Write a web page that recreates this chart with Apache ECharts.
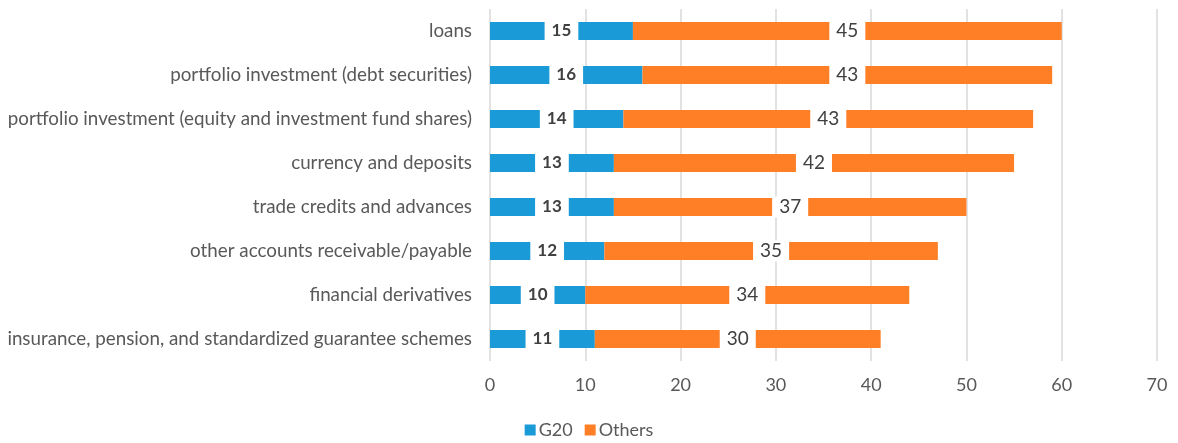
<!DOCTYPE html>
<html>
<head>
<meta charset="utf-8">
<script src="https://cdn.jsdelivr.net/npm/echarts@6/dist/echarts.min.js"></script>
<style>
  html, body { margin: 0; padding: 0; background: #ffffff; }
  #chart { width: 1178px; height: 443px; }
</style>
</head>
<body>
<div id="chart"></div>
<script>
// Financial instrument categories, top to bottom
const categories = [
  'loans',
  'portfolio investment (debt securities)',
  'portfolio investment (equity and investment fund shares)',
  'currency and deposits',
  'trade credits and advances',
  'other accounts receivable/payable',
  'financial derivatives',
  'insurance, pension, and standardized guarantee schemes'
];
const g20Values = [15, 16, 14, 13, 13, 12, 10, 11];
const othersValues = [45, 43, 43, 42, 37, 35, 34, 30];
const xTicks = { min: 0, max: 70, interval: 10 };

const FONT = 'Lato, "Open Sans", sans-serif';
const chart = echarts.init(document.getElementById('chart'));

chart.setOption({
  animation: false,
  textStyle: { fontFamily: FONT },
  grid: { left: 490, right: 21, top: 9, bottom: 82, containLabel: false },
  legend: {
    bottom: -1,
    left: 'center',
    itemWidth: 11,
    itemHeight: 11,
    itemGap: 12,
    icon: 'rect',
    textStyle: { fontSize: 18, color: '#595959', fontFamily: FONT, padding: [0, 0, 0, -2] },
    data: ['G20', 'Others']
  },
  xAxis: {
    type: 'value',
    min: xTicks.min,
    max: xTicks.max,
    interval: xTicks.interval,
    axisLine: { show: false },
    axisTick: { show: false },
    axisLabel: { fontSize: 18, color: '#595959', margin: 15 },
    splitLine: { show: true, lineStyle: { color: '#d9d9d9', width: 1.5 } }
  },
  yAxis: {
    type: 'category',
    inverse: true,
    data: categories,
    axisLine: { show: false },
    axisTick: { show: false },
    axisLabel: { fontSize: 18.8, color: '#595959', margin: 18 }
  },
  series: [
    {
      name: 'G20',
      type: 'bar',
      stack: 'total',
      barWidth: 18,
      data: g20Values,
      itemStyle: { color: '#1a9ad6' },
      label: {
        show: true,
        position: 'inside',
        color: '#404040',
        fontWeight: 'bold',
        fontSize: 17,
        backgroundColor: '#ffffff',
        padding: [2, 7]
      }
    },
    {
      name: 'Others',
      type: 'bar',
      stack: 'total',
      barWidth: 18,
      data: othersValues,
      itemStyle: { color: '#ff7f27' },
      label: {
        show: true,
        position: 'inside',
        color: '#404040',
        fontSize: 19,
        backgroundColor: '#ffffff',
        padding: [1, 7]
      }
    }
  ]
});
</script>
</body>
</html>
